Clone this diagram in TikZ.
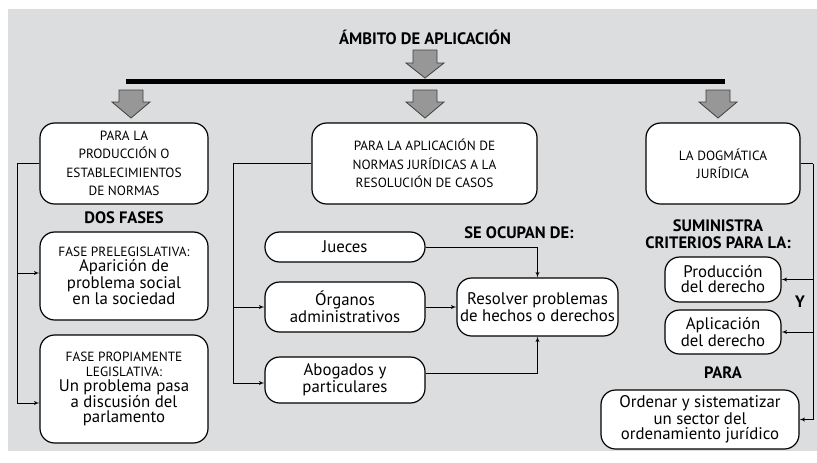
\documentclass[tikz,border=0pt]{standalone}
\usepackage{fontspec}
\setmainfont{PT Sans}
\usepackage{tikz}
\usetikzlibrary{calc}
\usetikzlibrary{arrows}
\tikzset{>=latex'}
\definecolor{fondo}{HTML}{DCDDDE}
\definecolor{flecha}{HTML}{979797}
\newcommand{\capstext}{\fontsize{10}{13.8}\selectfont}
\newcommand{\bigarrow}[4]{%
	\filldraw[fill=flecha,draw=black!75,line width=0.6pt] ({#1-12},#2) -- ({#1+12},#2) -- ({#1+12},#3) -- ({#1+19},#3) -- (#1,#4) -- ({#1-19},#3) -- ({#1-12},#3) -- cycle;}

\begin{document}
\begin{tikzpicture}[x=0.75pt,y=-0.75pt,font=\fontsize{12.6}{11.2}\selectfont,
	caja/.style={draw,fill=white,line width=0.9pt,rounded corners=11pt,align=center,inner sep=1pt},
	titulo/.style={font=\fontsize{12.4}{12.5}\selectfont\bfseries,align=center}]
	\useasboundingbox (0,0) rectangle (817,462);
	\fill[white] (0,0) rectangle (817,462);
	\fill[fondo] (8,9) rectangle (817,451);
	% cabecera
	\node[titulo] (ambito) at (425,37) {ÁMBITO DE APLICACIÓN};
	\bigarrow{425}{50}{63}{78}
	\draw[line width=3.75pt] (126,81.5) -- (725,81.5);
	\bigarrow{131}{90}{102}{118}
	\bigarrow{425}{90}{102}{118}
	\bigarrow{718}{90}{102}{118}
	% tres cajas principales
	\node[caja,minimum width=126pt,minimum height=60.75pt,font=\capstext] (produccion) at (124,163.5) {PARA LA\\PRODUCCIÓN O\\ESTABLECIMIENTOS\\DE NORMAS};
	\node[caja,minimum width=168.75pt,minimum height=60.75pt,font=\capstext] (aplicacion) at (424.5,163.5) {PARA LA APLICACIÓN DE\\NORMAS JURÍDICAS A LA\\RESOLUCIÓN DE CASOS};
	\node[caja,minimum width=115.5pt,minimum height=60.75pt,font=\capstext] (dogmatica) at (723,163.5) {LA DOGMÁTICA\\JURÍDICA};
	% columna izquierda
	\node[titulo] (dosfases) at (124,218) {DOS FASES};
	\node[caja,minimum width=126pt,minimum height=66pt] (prelegislativa) at (124,276) {{\capstext FASE PRELEGISLATIVA:}\\Aparición de\\problema social\\en la sociedad};
	\node[caja,minimum width=126pt,minimum height=81pt] (legislativa) at (124,389) {{\capstext FASE PROPIAMENTE}\\{\capstext LEGISLATIVA:}\\Un problema pasa\\a discusión del\\parlamento};
	\draw (produccion.west) -| (17,403) coordinate (izqbajo);
	\draw[->] (izqbajo) -- (legislativa.west |- izqbajo);
	\draw[->] (17,273) coordinate (izqmedio) -- (prelegislativa.west |- izqmedio);
	% columna central
	\node[titulo] (seocupan) at (519,233) {SE OCUPAN DE:};
	\node[caja,minimum width=120pt,minimum height=22.5pt] (jueces) at (345,247) {Jueces};
	\node[caja,minimum width=120pt,minimum height=37.5pt] (organos) at (345,307) {Órganos\\administrativos};
	\node[caja,minimum width=120pt,minimum height=34.5pt] (abogados) at (345,380) {Abogados y\\particulares};
	\node[caja,minimum width=120.75pt,minimum height=43.5pt] (resolver) at (537.5,307) {Resolver problemas\\de hechos o derechos};
	\draw (aplicacion.west) -| (233,383) coordinate (cenbajo);
	\draw[->] (cenbajo) -- (abogados.west |- cenbajo);
	\draw[->] (organos.west -| cenbajo) -- (organos.west);
	\draw[->] (jueces.east) -| (resolver.north);
	\draw[->] (organos.east) -- (resolver.west);
	\draw[->] ([yshift=5pt]abogados.east) -| (resolver.south);
	% columna derecha
	\node[titulo] (suministra) at (718,234) {SUMINISTRA\\CRITERIOS PARA LA:};
	\node[caja,minimum width=87pt,minimum height=33.75pt] (prodderecho) at (723,279.5) {Producción\\del derecho};
	\node[titulo] (y) at (800,302) {Y};
	\node[caja,minimum width=87pt,minimum height=33pt] (aplderecho) at (723,332) {Aplicación\\del derecho};
	\node[titulo] (para) at (723,373) {PARA};
	\node[caja,minimum width=148.5pt,minimum height=44.25pt] (ordenar) at (700,419.5) {Ordenar y sistematizar\\un sector del\\ordenamiento jurídico};
	\draw (dogmatica.east) -- (813,163.5) coordinate (derarriba);
	\draw[->] (derarriba) |- (ordenar.east);
	\draw[->] (derarriba |- prodderecho.east) -- (prodderecho.east);
	\draw[->] (derarriba |- aplderecho.east) -- (aplderecho.east);
\end{tikzpicture}
\end{document}
